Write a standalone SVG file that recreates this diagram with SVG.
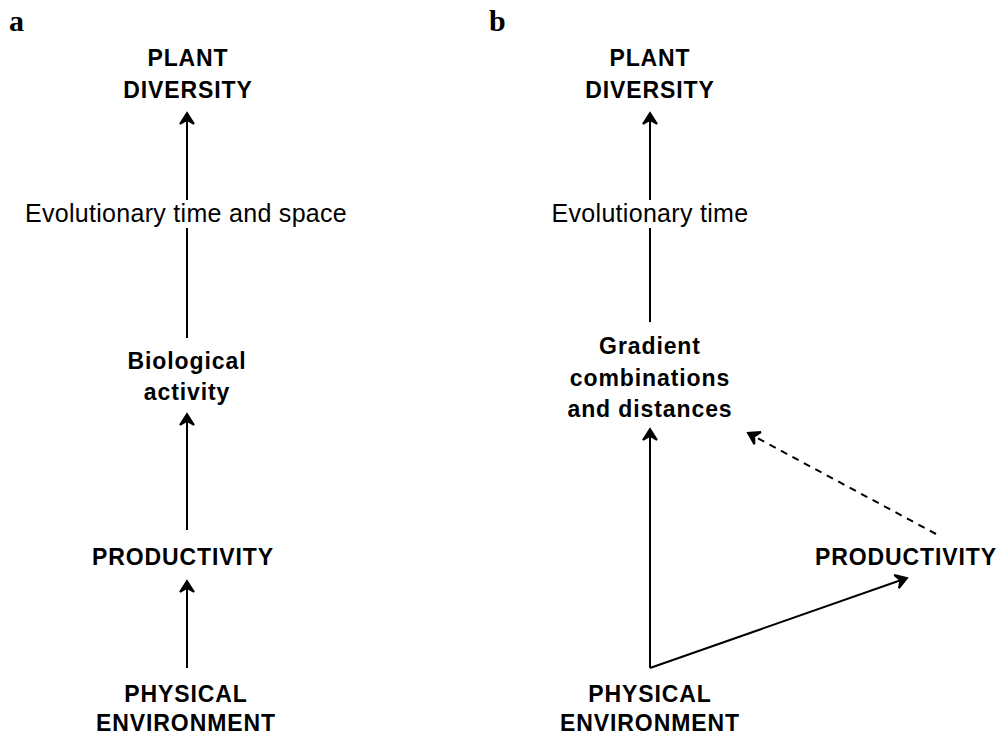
<svg xmlns="http://www.w3.org/2000/svg" width="1006" height="738" viewBox="0 0 1006 738">
<style>
.lbl{font-family:"Liberation Sans",Arial,sans-serif;font-size:23px;font-weight:bold;fill:#000;text-anchor:middle;letter-spacing:0.9px}
.thin{font-family:"Liberation Sans",Arial,sans-serif;font-size:25px;font-weight:normal;fill:#000;text-anchor:middle;letter-spacing:0.3px}
.panel{font-family:"Liberation Serif","Times New Roman",serif;font-size:30px;font-weight:bold;fill:#000}
.ln{stroke:#000;stroke-width:2;fill:none}
.dash{stroke:#000;stroke-width:2;fill:none;stroke-dasharray:7,6}
</style>
<defs>
<marker id="ah" markerUnits="userSpaceOnUse" markerWidth="20" markerHeight="20" refX="14" refY="10" orient="auto">
<path d="M3,3 L14,10 L3,17 L7,10 Z" fill="#000" stroke="#000" stroke-width="2" stroke-linejoin="miter"/>
</marker>
</defs>
<rect width="1006" height="738" fill="#fff"/>
<text class="panel" x="9" y="31">a</text>
<text class="panel" x="489" y="31">b</text>

<g id="connectors">
<line class="ln" x1="187" y1="200" x2="187" y2="113" stroke-width="2.5" marker-end="url(#ah)"/>
<line class="ln" x1="187" y1="338" x2="187" y2="228" stroke-width="2.5"/>
<line class="ln" x1="187" y1="530" x2="187" y2="414" marker-end="url(#ah)"/>
<line class="ln" x1="187" y1="668" x2="187" y2="581" marker-end="url(#ah)"/>
<line class="ln" x1="650" y1="200" x2="650" y2="113" marker-end="url(#ah)"/>
<line class="ln" x1="650" y1="322" x2="650" y2="228"/>
<line class="ln" x1="650" y1="668" x2="650" y2="429" marker-end="url(#ah)"/>
<line class="ln" x1="650" y1="668" x2="907" y2="578" marker-end="url(#ah)"/>
<line class="dash" x1="936" y1="534" x2="748" y2="433" marker-end="url(#ah)"/>
</g>

<g id="a-plant-diversity"><text class="lbl" x="188" y="66">PLANT</text><text class="lbl" x="188" y="98">DIVERSITY</text></g>
<g id="a-evolutionary"><text class="thin" x="186" y="222">Evolutionary time and space</text></g>
<g id="a-biological"><text class="lbl" x="187" y="369">Biological</text><text class="lbl" x="187" y="400">activity</text></g>
<g id="a-productivity"><text class="lbl" x="183" y="565">PRODUCTIVITY</text></g>
<g id="a-physical"><text class="lbl" x="186" y="702">PHYSICAL</text><text class="lbl" x="186" y="731">ENVIRONMENT</text></g>

<g id="b-plant-diversity"><text class="lbl" x="650" y="66">PLANT</text><text class="lbl" x="650" y="98">DIVERSITY</text></g>
<g id="b-evolutionary"><text class="thin" x="650" y="222">Evolutionary time</text></g>
<g id="b-gradient"><text class="lbl" x="650" y="354">Gradient</text><text class="lbl" x="650" y="386">combinations</text><text class="lbl" x="650" y="417">and distances</text></g>
<g id="b-productivity"><text class="lbl" x="906" y="565">PRODUCTIVITY</text></g>
<g id="b-physical"><text class="lbl" x="650" y="702">PHYSICAL</text><text class="lbl" x="650" y="731">ENVIRONMENT</text></g>
</svg>
